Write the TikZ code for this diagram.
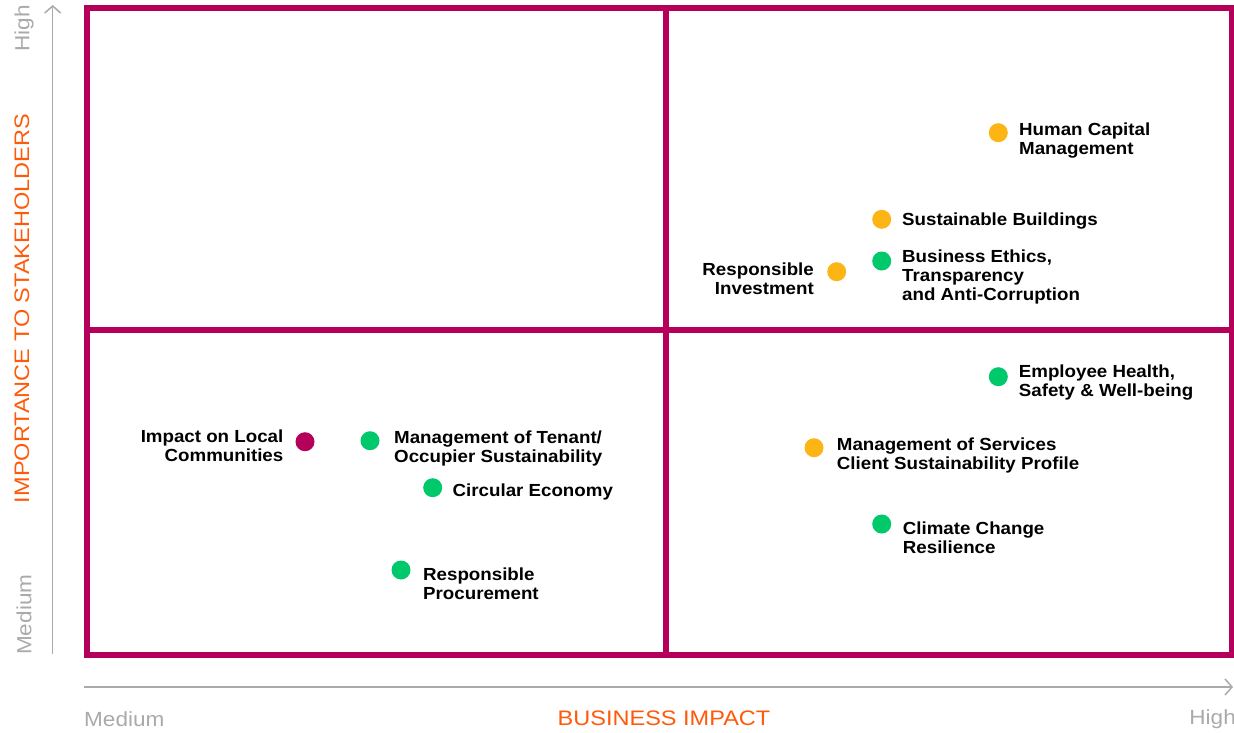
\documentclass[tikz,border=0pt]{standalone}
\usepackage{fontspec}
\setmainfont{Liberation Sans}[FakeStretch=1.07]
\newfontfamily\axisfont{Liberation Sans}[FakeStretch=1.1]
\newfontfamily\titlefont{Liberation Sans}[FakeStretch=1.12]
\usetikzlibrary{arrows.meta}
\definecolor{frame}{HTML}{B5005B}
\definecolor{axisgray}{HTML}{AAAAAA}
\definecolor{titleorange}{HTML}{FF5A0A}
\definecolor{dotorange}{HTML}{FDB515}
\definecolor{dotgreen}{HTML}{00C96B}
\definecolor{dotred}{HTML}{B5005B}
\begin{document}
\begin{tikzpicture}[x=1pt,y=-1pt,
  frameline/.style={draw=frame,line width=6pt},
  axisline/.style={draw=axisgray,line width=1.5pt,-{Straight Barb[length=7pt,width=16pt,line width=1.5pt]}},
  axislabel/.style={text=axisgray,font=\axisfont\fontsize{20.5}{24}\selectfont,inner sep=0pt},
  axistitle/.style={text=titleorange,font=\titlefont\fontsize{21}{24}\selectfont,inner sep=0pt},
  dot/.style={circle,minimum size=19pt,inner sep=0pt,fill=#1},
  lab/.style={font=\bfseries\fontsize{17.5}{19}\selectfont,inner sep=0pt,text=black}
]
\useasboundingbox (0,0) rectangle (1234,732);
% frame
\draw[frameline] (87,8) rectangle (1231.5,655);
\draw[frameline] (666,8) -- (666,655);
\draw[frameline] (87,330) -- (1231.5,330);
% axes
\coordinate (ybot) at (52.7,654);
\coordinate (ytop) at (52.7,5);
\coordinate (xl) at (84,687);
\coordinate (xr) at (1233,687);
\draw[axisline] (ybot) -- (ytop);
\draw[axisline] (xl) -- (xr);
\node[axislabel,rotate=90,anchor=east] (yhigh) at (24,5) {High};
\node[axislabel,rotate=90,anchor=west] (ymed) at (24,655) {Medium};
\node[axistitle,rotate=90] (ytitle) at (22,308.5) {IMPORTANCE TO STAKEHOLDERS};
\node[axislabel,anchor=west] (xmed) at (84,719) {Medium};
\node[axislabel,anchor=east] (xhigh) at (1236,719) {High};
\node[axistitle] (xtitle) at (664,718) {BUSINESS IMPACT};
% dots
\node[dot=dotorange] (d1) at (998.3,132.7) {};
\node[dot=dotorange] (d2) at (881.7,219.3) {};
\node[dot=dotgreen] (d3) at (881.7,261) {};
\node[dot=dotorange] (d4) at (836.7,271.7) {};
\node[dot=dotred] (d5) at (305,441.7) {};
\node[dot=dotgreen] (d6) at (370,440.7) {};
\node[dot=dotgreen] (d7) at (432.7,487.7) {};
\node[dot=dotgreen] (d8) at (401,570) {};
\node[dot=dotgreen] (d9) at (998.3,376.7) {};
\node[dot=dotorange] (d10) at (814,447.7) {};
\node[dot=dotgreen] (d11) at (881.7,524) {};
% labels
\node[lab,anchor=north west,align=left] (t1) at (1019,122.4) {Human Capital\\Management};
\node[lab,anchor=north west,align=left] (t2) at (902,212.7) {Sustainable Buildings};
\node[lab,anchor=north west,align=left] (t3) at (902,250) {Business Ethics,\\Transparency\\and Anti-Corruption};
\node[lab,anchor=north east,align=right] (t4) at (814,262.3) {Responsible\\Investment};
\node[lab,anchor=north east,align=right] (t5) at (283.5,430) {Impact on Local\\Communities};
\node[lab,anchor=north west,align=left] (t6) at (394,431) {Management of Tenant/\\Occupier Sustainability};
\node[lab,anchor=north west,align=left] (t7) at (452.5,484) {Circular Economy};
\node[lab,anchor=north west,align=left] (t8) at (423,567.7) {Responsible\\Procurement};
\node[lab,anchor=north west,align=left] (t9) at (1018.7,365) {Employee Health,\\Safety \& Well-being};
\node[lab,anchor=north west,align=left] (t10) at (836.7,437.3) {Management of Services\\Client Sustainability Profile};
\node[lab,anchor=north west,align=left] (t11) at (902.7,521.7) {Climate Change\\Resilience};
\end{tikzpicture}
\end{document}
